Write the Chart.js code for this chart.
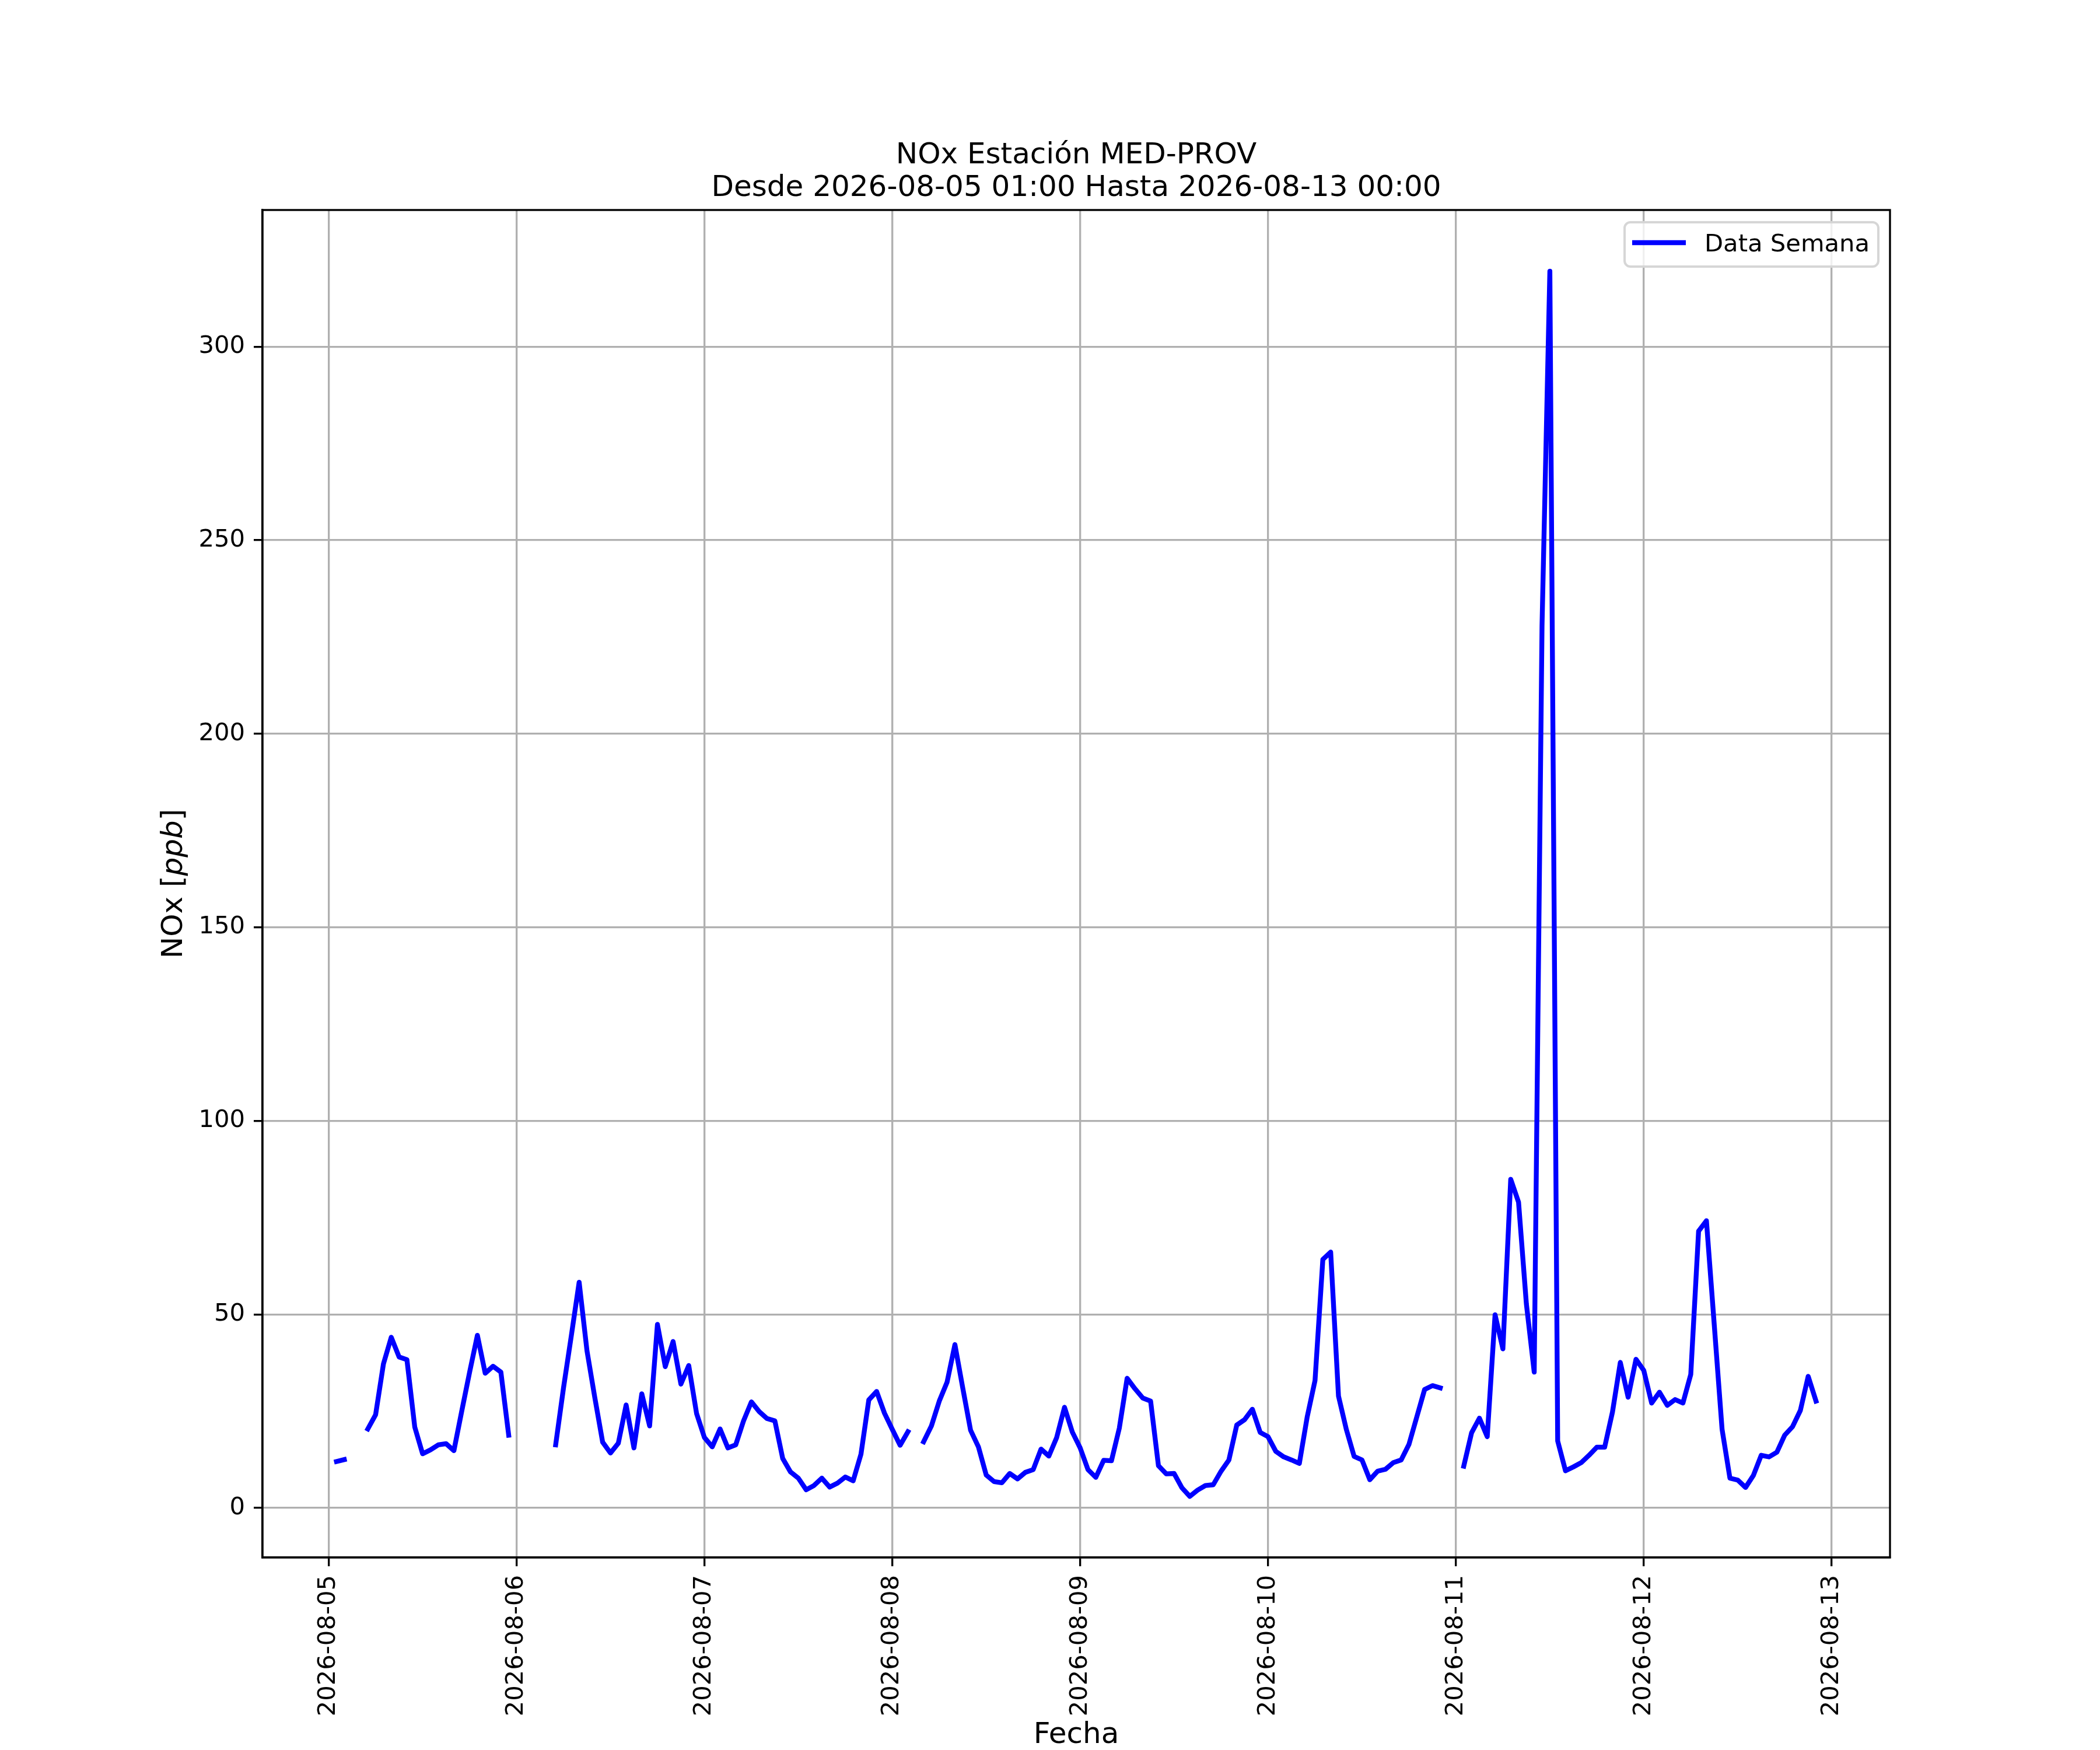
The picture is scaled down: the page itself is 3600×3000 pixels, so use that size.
<!DOCTYPE html>
<html>
<head>
<meta charset="utf-8">
<title>NOx Estación MED-PROV</title>
<script src="https://cdn.jsdelivr.net/npm/chart.js@4.4.1/dist/chart.umd.min.js"></script>
<style>
  html, body { margin: 0; padding: 0; background: #ffffff; }
  #wrap { width: 3600px; height: 3000px; }
</style>
</head>
<body>
<div id="wrap"><canvas id="chart" width="3600" height="3000"></canvas></div>
<script>
// hourly NOx readings, hours 00..23 of each day (null = no reading)
const day05 = [null, 12.0, 12.5, null, null, 20.4, 24.1, 37.2, 44.1, 39.0, 38.3, 20.9, 14.0, 15.0, 16.3, 16.6, 14.8, 25.0, 35.0, 44.6, 34.8, 36.6, 35.1, 18.8];
const day06 = [null, null, null, null, null, 16.3, 31.0, 44.5, 58.3, 40.6, 28.5, 17.0, 14.2, 16.7, 26.6, 15.5, 29.5, 21.2, 47.4, 36.5, 43.0, 32.0, 36.8, 24.4];
const day07 = [18.2, 15.8, 20.4, 15.5, 16.3, 22.5, 27.4, 24.9, 23.1, 22.5, 12.8, 9.3, 7.7, 4.7, 5.8, 7.7, 5.4, 6.4, 8.0, 7.0, 13.9, 27.9, 30.1, 24.5];
const day08 = [20.3, 16.2, 19.7, null, 17.1, 21.2, 27.6, 32.5, 42.2, 31.0, 20.1, 15.8, 8.5, 6.8, 6.5, 8.9, 7.5, 9.2, 9.9, 15.2, 13.4, 18.2, 26.0, 19.6];
const day09 = [15.5, 9.9, 7.9, 12.3, 12.2, 20.6, 33.5, 30.8, 28.4, 27.6, 10.9, 8.8, 8.9, 5.2, 3.0, 4.6, 5.8, 6.0, 9.5, 12.4, 21.4, 22.8, 25.5, 19.5];
const day10 = [18.4, 14.6, 13.2, 12.4, 11.5, 23.5, 32.9, 64.2, 66.1, 28.9, 20.3, 13.3, 12.4, 7.3, 9.5, 10.0, 11.7, 12.4, 16.4, 23.5, 30.6, 31.6, 31.0, null];
const day11 = [null, 10.8, 19.4, 23.2, 18.4, 49.9, 41.1, 84.9, 79.0, 52.7, 35.1, 228.0, 319.5, 17.3, 9.6, 10.6, 11.7, 13.6, 15.7, 15.7, 24.8, 37.6, 28.6, 38.4];
const day12 = [35.5, 27.1, 29.9, 26.5, 28.0, 27.1, 34.5, 71.5, 74.2, 47.3, 20.3, 7.7, 7.2, 5.3, 8.4, 13.6, 13.2, 14.4, 18.8, 21.0, 25.2, 34.0, 27.6, null];

const days = [day05, day06, day07, day08, day09, day10, day11, day12];
const dayLabels = ['2026-08-05', '2026-08-06', '2026-08-07', '2026-08-08', '2026-08-09', '2026-08-10', '2026-08-11', '2026-08-12', '2026-08-13'];
const yTicks = [0, 50, 100, 150, 200, 250, 300];

const titleLines = ['NOx Estación MED-PROV', 'Desde 2026-08-05 01:00 Hasta 2026-08-13 00:00'];
const seriesName = 'Data Semana';

// x is hours since 2026-08-05 00:00
const points = [];
days.forEach((vals, d) => {
  vals.forEach((v, h) => points.push({ x: d * 24 + h, y: v }));
});

const FONT = 'DejaVu Sans';
const BLUE = '#0000ff';
const GRID = '#b0b0b0';
const LINE_W = 8.33;

const decorPlugin = {
  id: 'decor',
  beforeDraw(chart) {
    const ctx = chart.ctx;
    ctx.save();
    ctx.fillStyle = '#ffffff';
    ctx.fillRect(0, 0, chart.width, chart.height);
    ctx.restore();
  },
  afterDraw(chart) {
    const ctx = chart.ctx;
    const a = chart.chartArea;
    const cx = (a.left + a.right) / 2;

    // frame on top of the line
    ctx.save();
    ctx.strokeStyle = '#000000';
    ctx.lineWidth = 3.33;
    ctx.strokeRect(a.left, a.top, a.right - a.left, a.bottom - a.top);
    ctx.restore();

    // title
    ctx.save();
    ctx.fillStyle = '#000000';
    ctx.font = '50px "' + FONT + '"';
    ctx.textAlign = 'center';
    ctx.textBaseline = 'alphabetic';
    ctx.fillText(titleLines[0], cx, 280);
    ctx.fillText(titleLines[1], cx, 336);
    ctx.restore();

    // y label: NOx [ppb] with italic ppb
    ctx.save();
    const yMid = (a.top + a.bottom) / 2;
    ctx.translate(312, yMid);
    ctx.rotate(-Math.PI / 2);
    ctx.fillStyle = '#000000';
    ctx.textBaseline = 'alphabetic';
    ctx.textAlign = 'left';
    const parts = [
      ['NOx [', '50px "' + FONT + '"'],
      ['ppb', 'italic 50px "' + FONT + '"'],
      [']', '50px "' + FONT + '"']
    ];
    let total = 0;
    parts.forEach(p => { ctx.font = p[1]; total += ctx.measureText(p[0]).width; });
    let px = -total / 2;
    parts.forEach(p => {
      ctx.font = p[1];
      ctx.fillText(p[0], px, 0);
      px += ctx.measureText(p[0]).width;
    });
    ctx.restore();

    // legend box, upper right
    ctx.save();
    const bx = 2785, by = 381, bw = 435, bh = 76, r = 10;
    ctx.beginPath();
    ctx.moveTo(bx + r, by);
    ctx.arcTo(bx + bw, by, bx + bw, by + bh, r);
    ctx.arcTo(bx + bw, by + bh, bx, by + bh, r);
    ctx.arcTo(bx, by + bh, bx, by, r);
    ctx.arcTo(bx, by, bx + bw, by, r);
    ctx.closePath();
    ctx.fillStyle = 'rgba(255,255,255,0.8)';
    ctx.fill();
    ctx.strokeStyle = '#d6d6d6';
    ctx.lineWidth = 4;
    ctx.stroke();
    ctx.beginPath();
    ctx.moveTo(2798, 416);
    ctx.lineTo(2890, 416);
    ctx.strokeStyle = BLUE;
    ctx.lineWidth = LINE_W;
    ctx.stroke();
    ctx.fillStyle = '#000000';
    ctx.font = '41.7px "' + FONT + '"';
    ctx.textAlign = 'left';
    ctx.textBaseline = 'alphabetic';
    ctx.fillText(seriesName, 2922, 431);
    ctx.restore();
  }
};

new Chart(document.getElementById('chart'), {
  type: 'line',
  data: {
    datasets: [{
      label: seriesName,
      data: points,
      borderColor: BLUE,
      backgroundColor: BLUE,
      borderWidth: LINE_W,
      borderCapStyle: 'square',
      borderJoinStyle: 'round',
      pointRadius: 0,
      pointHoverRadius: 0,
      tension: 0,
      spanGaps: false,
      fill: false
    }]
  },
  options: {
    responsive: false,
    devicePixelRatio: 1,
    animation: false,
    events: [],
    layout: { padding: { top: 360, right: 360, bottom: 0, left: 0 } },
    plugins: {
      legend: { display: false },
      title: { display: false },
      tooltip: { enabled: false }
    },
    scales: {
      x: {
        type: 'linear',
        min: -8.45,
        max: 199.45,
        afterBuildTicks(scale) {
          scale.ticks = dayLabels.map((_, i) => ({ value: i * 24 }));
        },
        afterFit(scale) { scale.height = 330; },
        ticks: {
          autoSkip: false,
          minRotation: 90,
          maxRotation: 90,
          padding: 15,
          color: '#000000',
          font: { family: FONT, size: 41.7 },
          callback: (v) => dayLabels[Math.round(v / 24)]
        },
        grid: {
          color: GRID,
          lineWidth: 3.33,
          tickColor: '#000000',
          tickWidth: 3.33,
          tickLength: 15
        },
        border: { display: true, color: '#000000', width: 3.33 },
        title: {
          display: true,
          text: 'Fecha',
          color: '#000000',
          font: { family: FONT, size: 50, lineHeight: 1 },
          padding: { top: 0, bottom: 0 }
        }
      },
      y: {
        type: 'linear',
        min: -12.8,
        max: 335.3,
        afterBuildTicks(scale) {
          scale.ticks = yTicks.map(v => ({ value: v }));
        },
        afterFit(scale) { scale.width = 450; },
        ticks: {
          padding: 15,
          color: '#000000',
          font: { family: FONT, size: 41.7 },
          callback: (v) => String(v)
        },
        grid: {
          color: GRID,
          lineWidth: 3.33,
          tickColor: '#000000',
          tickWidth: 3.33,
          tickLength: 15
        },
        border: { display: true, color: '#000000', width: 3.33 }
      }
    }
  },
  plugins: [decorPlugin]
});
</script>
</body>
</html>
